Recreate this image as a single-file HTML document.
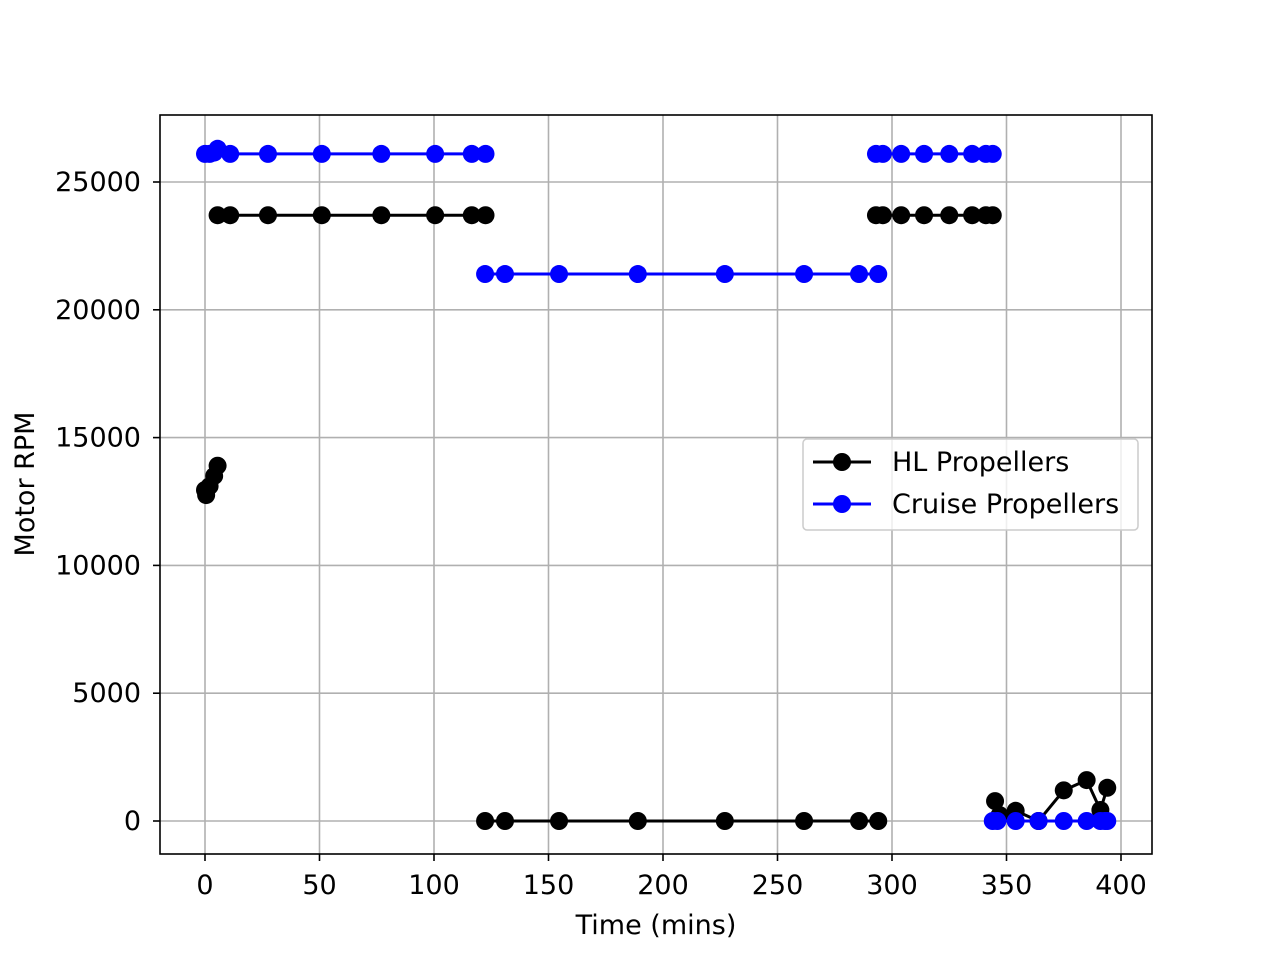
<!DOCTYPE html>
<html><head><meta charset="utf-8"><style>
body{margin:0;background:#fff;}
svg text{font-family:"DejaVu Sans",sans-serif;}
</style></head><body>
<svg id="chart" width="1280" height="960" viewBox="0 0 1280 960" xmlns="http://www.w3.org/2000/svg">
<rect width="1280" height="960" fill="#fff"/>
<g id="grid"></g><g id="ticks"></g><g id="series"></g>
<rect x="160" y="115" width="992" height="739" fill="none" stroke="#000" stroke-width="1.6"/>
<text x="656" y="934" font-size="27" text-anchor="middle">Time (mins)</text>
<text transform="translate(34,484) rotate(-90)" font-size="27" text-anchor="middle">Motor RPM</text>
<g>
<rect x="803" y="439" width="335" height="91" rx="4" fill="#fff" fill-opacity="0.8" stroke="#ccc" stroke-width="1.5"/>
<line x1="813" y1="462" x2="871" y2="462" stroke="#000" stroke-width="3"/><circle cx="842" cy="462" r="9" fill="#000"/>
<text x="892" y="471" font-size="27">HL Propellers</text>
<line x1="813" y1="504" x2="871" y2="504" stroke="#00f" stroke-width="3"/><circle cx="842" cy="504" r="9" fill="#00f"/>
<text x="892" y="513" font-size="27">Cruise Propellers</text>
</g>
</svg>
<script>
const xTicks=[0,50,100,150,200,250,300,350,400];
const yTicks=[0,5000,10000,15000,20000,25000];
// null separates segments
const hlTime=[0,0.5,2,4,5.5,null,5.5,11,27.5,51,77,100.5,116.5,122.5,null,122.3,131,154.6,189,227,261.6,285.6,294,null,293,296,304,314,325,335,341,344,null,345,347,354,364,375,385,391,394];
const hlRpm=[12950,12750,13100,13500,13900,null,23700,23700,23700,23700,23700,23700,23700,23700,null,0,0,0,0,0,0,0,0,null,23700,23700,23700,23700,23700,23700,23700,23700,null,780,230,400,0,1200,1600,430,1300];
const cruiseTime=[0,2,4,5.5,11,27.5,51,77,100.5,116.5,122.5,null,122.3,131,154.6,189,227,261.6,285.6,294,null,293,296,304,314,325,335,341,344,null,344,346,354,364,375,385,391,393,394];
const cruiseRpm=[26100,26100,26150,26300,26100,26100,26100,26100,26100,26100,26100,null,21400,21400,21400,21400,21400,21400,21400,21400,null,26100,26100,26100,26100,26100,26100,26100,26100,null,0,0,0,0,0,0,0,0,0];
const X=v=>205+v*(1121-205)/400;
const Y=v=>821-v*(821-182)/25000;
const NS="http://www.w3.org/2000/svg";
function mk(tag,attrs,parent){const e=document.createElementNS(NS,tag);for(const k in attrs)e.setAttribute(k,attrs[k]);parent.appendChild(e);return e;}
const grid=document.getElementById('grid'),ticks=document.getElementById('ticks'),ser=document.getElementById('series');
xTicks.forEach(t=>{
 const g=mk('line',{x1:X(t),x2:X(t),y1:115,y2:854,stroke:'#b0b0b0','stroke-width':1.6},grid);
 
 
 mk('line',{x1:X(t),x2:X(t),y1:854,y2:861,stroke:'#000','stroke-width':1.6},ticks);
 const tx=mk('text',{x:X(t),y:894,'font-size':27,'text-anchor':'middle'},ticks);tx.textContent=t;
 
 
});
yTicks.forEach(t=>{
 const g=mk('line',{x1:160,x2:1152,y1:Y(t),y2:Y(t),stroke:'#b0b0b0','stroke-width':1.6},grid);
 
 
 mk('line',{x1:153,x2:160,y1:Y(t),y2:Y(t),stroke:'#000','stroke-width':1.6},ticks);
 const tx=mk('text',{x:141,y:Y(t)+9,'font-size':27,'text-anchor':'end'},ticks);tx.textContent=t;
 
 
});
function draw(xs,ys,color,name){
 let d='',pen=false;
 xs.forEach((x,i)=>{if(x===null||ys[i]===null){pen=false;return;}d+=(pen?'L':'M')+X(x)+' '+Y(ys[i])+' ';pen=true;});
 const p=mk('path',{d:d,fill:'none',stroke:color,'stroke-width':3},ser);
 
 
 xs.forEach((x,i)=>{if(x===null||ys[i]===null)return;
  const c=mk('circle',{cx:X(x),cy:Y(ys[i]),r:9,fill:color},ser);
  
  
 });
}
draw(hlTime,hlRpm,'#000','hl-propellers');
draw(cruiseTime,cruiseRpm,'#00f','cruise-propellers');
</script>
</body></html>
